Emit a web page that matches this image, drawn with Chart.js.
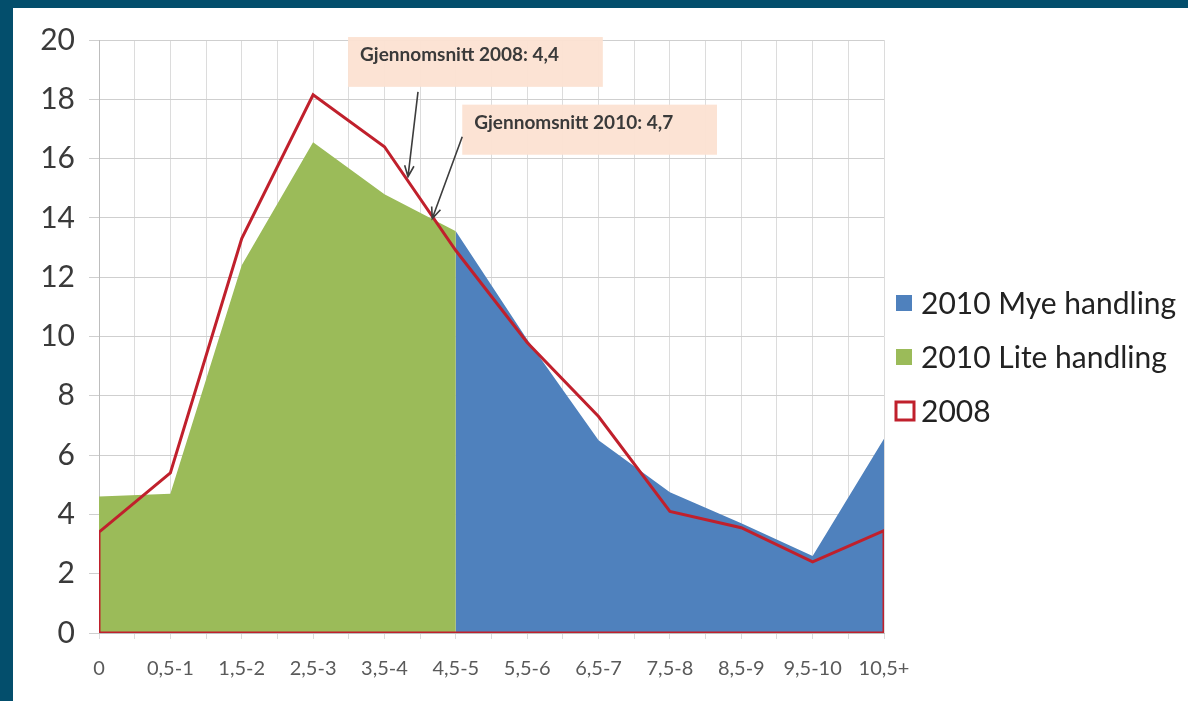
<!DOCTYPE html>
<html lang="no">
<head>
    <meta charset="UTF-8">
    <title>Fordeling 2008 og 2010</title>
    <script src="https://cdn.jsdelivr.net/npm/chart.js"></script>
    <style>
        body { margin: 0; background: #ffffff; }
        #frame { border-top: 8px solid #034e6c; border-left: 13px solid #034e6c; width: 1175px; height: 693px; }
        #chart-box { position: relative; width: 1175px; height: 693px; }
    </style>
</head>
<body>
<div id="frame">
    <div id="chart-box"><canvas id="chart"></canvas></div>
</div>

<script>
    const categories = ['0', '0,5-1', '1,5-2', '2,5-3', '3,5-4', '4,5-5', '5,5-6', '6,5-7', '7,5-8', '8,5-9', '9,5-10', '10,5+'];
    const lite2010 = [4.6, 4.7, 12.4, 16.55, 14.8, 13.55, null, null, null, null, null, null];
    const mye2010 = [null, null, null, null, null, 13.55, 9.9, 6.5, 4.75, 3.7, 2.6, 6.55];
    const values2008 = [3.4, 5.4, 13.3, 18.15, 16.4, 12.9, 9.8, 7.3, 4.1, 3.55, 2.4, 3.45];
    const yMax = 20;
    const yStep = 2;

    // category index -> {x, y}, skipping empty slots
    function toPoints(values) {
        return values
            .map((v, i) => (v === null ? null : { x: i, y: v }))
            .filter(p => p !== null);
    }

    // 2008 is an unfilled area: trace the outline down to zero and back along the bottom
    const last = categories.length - 1;
    const outline2008 = [{ x: 0, y: 0 }, ...toPoints(values2008), { x: last, y: 0 }, { x: 0, y: 0 }];

    // callouts, in axis units
    const callouts = [
        { text: 'Gjennomsnitt 2008: 4,4', box: [3.49, 20.1, 7.06, 18.42], from: [4.47, 18.25], to: [4.33, 15.39] },
        { text: 'Gjennomsnitt 2010: 4,7', box: [5.09, 17.82, 8.66, 16.13], from: [5.09, 16.74], to: [4.67, 13.98] }
    ];

    const calloutPlugin = {
        id: 'callouts',
        afterDatasetsDraw(chart) {
            const { ctx, scales: { x, y } } = chart;
            ctx.save();
            callouts.forEach(c => {
                const left = x.getPixelForValue(c.box[0]);
                const top = y.getPixelForValue(c.box[1]);
                const right = x.getPixelForValue(c.box[2]);
                const bottom = y.getPixelForValue(c.box[3]);
                ctx.fillStyle = 'rgba(252, 226, 210, 0.95)';
                ctx.fillRect(left, top, right - left, bottom - top);

                ctx.fillStyle = '#3a3a3a';
                ctx.font = 'bold 19px Lato';
                ctx.textBaseline = 'middle';
                ctx.textAlign = 'left';
                ctx.fillText(c.text, left + 12, top + 18);

                const x1 = x.getPixelForValue(c.from[0]);
                const y1 = y.getPixelForValue(c.from[1]);
                const x2 = x.getPixelForValue(c.to[0]);
                const y2 = y.getPixelForValue(c.to[1]);
                const ang = Math.atan2(y2 - y1, x2 - x1);
                const head = 12;
                ctx.strokeStyle = '#3d3d3d';
                ctx.lineWidth = 1.6;
                ctx.beginPath();
                ctx.moveTo(x1, y1);
                ctx.lineTo(x2, y2);
                ctx.moveTo(x2 - head * Math.cos(ang - 0.4), y2 - head * Math.sin(ang - 0.4));
                ctx.lineTo(x2, y2);
                ctx.lineTo(x2 - head * Math.cos(ang + 0.4), y2 - head * Math.sin(ang + 0.4));
                ctx.stroke();
            });
            ctx.restore();
        }
    };

    // legend on the right, drawn by hand so it sits level with the middle gridlines
    const sideLegend = {
        id: 'sideLegend',
        afterDraw(chart) {
            const { ctx } = chart;
            const left = 883;
            const rows = [295, 349, 403];
            ctx.save();
            ctx.font = '30px Lato';
            ctx.textBaseline = 'middle';
            ctx.textAlign = 'left';
            chart.data.datasets.forEach((ds, i) => {
                const cy = rows[i];
                if (ds.fill) {
                    ctx.fillStyle = ds.backgroundColor;
                    ctx.fillRect(left, cy - 8, 16, 16);
                } else {
                    ctx.fillStyle = '#ffffff';
                    ctx.fillRect(left, cy - 9, 18, 18);
                    ctx.strokeStyle = ds.borderColor;
                    ctx.lineWidth = 3;
                    ctx.strokeRect(left, cy - 9, 18, 18);
                }
                ctx.fillStyle = '#222222';
                ctx.fillText(ds.label, left + 25, cy + 1);
            });
            ctx.restore();
        }
    };

    const ctx = document.getElementById('chart').getContext('2d');
    const chart = new Chart(ctx, {
        type: 'line',
        data: {
            datasets: [
                {
                    label: '2010 Mye handling',
                    data: toPoints(mye2010),
                    backgroundColor: '#4f81bd',
                    borderColor: 'rgba(0,0,0,0)',
                    borderWidth: 0,
                    fill: 'origin',
                    pointRadius: 0,
                    order: 1
                },
                {
                    label: '2010 Lite handling',
                    data: toPoints(lite2010),
                    backgroundColor: '#9bbb59',
                    borderColor: 'rgba(0,0,0,0)',
                    borderWidth: 0,
                    fill: 'origin',
                    pointRadius: 0,
                    order: 2
                },
                {
                    label: '2008',
                    data: outline2008,
                    borderColor: '#c0202c',
                    borderWidth: 3,
                    fill: false,
                    pointRadius: 0,
                    order: 0
                }
            ]
        },
        options: {
            responsive: true,
            maintainAspectRatio: false,
            animation: false,
            layout: { padding: { top: 30, right: 304, left: 0, bottom: 0 } },
            plugins: {
                legend: { display: false },
                tooltip: { enabled: false }
            },
            scales: {
                x: {
                    type: 'linear',
                    min: 0,
                    max: last,
                    afterFit: scale => { scale.height = 68; },
                    grid: { color: '#dcdcdc', tickLength: 6 },
                    border: { color: '#bdbdbd' },
                    ticks: {
                        stepSize: 0.5,
                        autoSkip: false,
                        maxRotation: 0,
                        padding: 18,
                        color: '#5a5a5a',
                        font: { family: 'Lato', size: 20 },
                        callback: v => (Number.isInteger(v) ? categories[v] : '')
                    }
                },
                y: {
                    min: 0,
                    max: yMax,
                    afterFit: scale => { scale.width = 86; },
                    grid: { color: '#cfcfcf', tickLength: 10 },
                    border: { color: '#bdbdbd' },
                    ticks: {
                        stepSize: yStep,
                        padding: 14,
                        color: '#3a3a3a',
                        font: { family: 'Lato', size: 30 }
                    }
                }
            }
        },
        plugins: [calloutPlugin, sideLegend]
    });
</script>
</body>
</html>
